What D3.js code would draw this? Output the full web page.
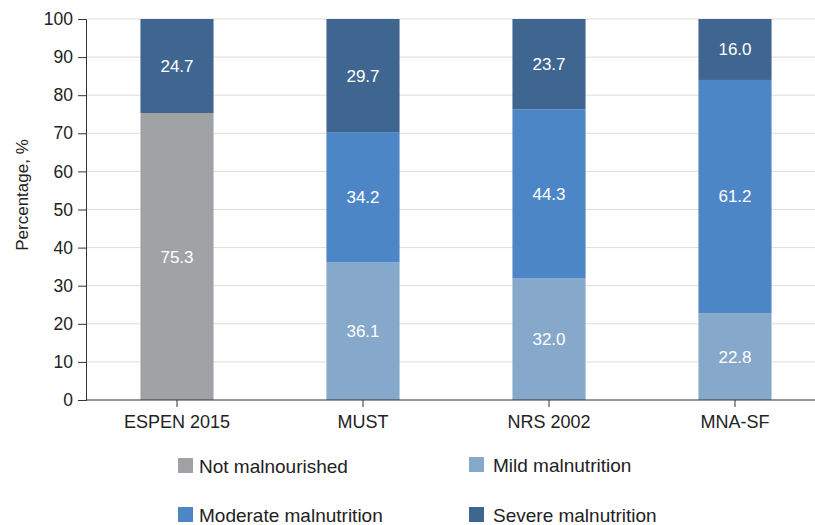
<!DOCTYPE html>
<html>
<head>
<meta charset="utf-8">
<script src="https://cdn.jsdelivr.net/npm/d3@7"></script>
<style>
  body { margin: 0; background: #fff; }
  text { font-family: "Liberation Sans", Arial, sans-serif; }
</style>
</head>
<body>
<div id="chart"></div>
<script>
var categories = ["ESPEN 2015", "MUST", "NRS 2002", "MNA-SF"];
var seriesNames = ["Not malnourished", "Mild malnutrition", "Moderate malnutrition", "Severe malnutrition"];
var notMalnourished = [75.3, 0, 0, 0];
var mild = [0, 36.1, 32.0, 22.8];
var moderate = [0, 34.2, 44.3, 61.2];
var severe = [24.7, 29.7, 23.7, 16.0];
var yTicks = [0, 10, 20, 30, 40, 50, 60, 70, 80, 90, 100];

var colors = ["#a1a2a6", "#86a8cb", "#4d86c6", "#3f6690"];

var width = 815, height = 525;

var svg = d3.select("#chart").append("svg")
  .attr("width", width)
  .attr("height", height);

// scales
var x = d3.scaleBand()
  .domain(categories)
  .range([84, 828])
  .paddingInner(0.607)
  .paddingOuter(0.3035);

var y = d3.scaleLinear()
  .domain([0, 100])
  .range([400, 19]);

// gridlines
svg.append("g")
  .selectAll("line")
  .data(yTicks.filter(function(d) { return d > 0; }))
  .enter().append("line")
  .attr("x1", 86).attr("x2", width)
  .attr("y1", function(d) { return y(d); })
  .attr("y2", function(d) { return y(d); })
  .attr("stroke", "#e2dccd")
  .attr("stroke-width", 1);

// stack the data
var rows = categories.map(function(c, i) {
  return { cat: c, s0: notMalnourished[i], s1: mild[i], s2: moderate[i], s3: severe[i] };
});
var stack = d3.stack().keys(["s0", "s1", "s2", "s3"]);
var layers = stack(rows);

var g = svg.append("g");
layers.forEach(function(layer, k) {
  g.selectAll(".bar" + k)
    .data(layer)
    .enter().append("rect")
    .attr("x", function(d) { return x(d.data.cat); })
    .attr("width", x.bandwidth())
    .attr("y", function(d) { return y(d[1]); })
    .attr("height", function(d) { return y(d[0]) - y(d[1]); })
    .attr("fill", colors[k]);

  g.selectAll(".lab" + k)
    .data(layer.filter(function(d) { return d[1] - d[0] > 0; }))
    .enter().append("text")
    .attr("x", function(d) { return x(d.data.cat) + x.bandwidth() / 2; })
    .attr("y", function(d) { return (y(d[0]) + y(d[1])) / 2; })
    .attr("dy", "0.35em")
    .attr("text-anchor", "middle")
    .attr("fill", "#fff")
    .style("font-size", "17px")
    .text(function(d) { return (d[1] - d[0]).toFixed(1); });
});

// y axis
var yAxis = svg.append("g")
  .attr("transform", "translate(86,0)")
  .call(d3.axisLeft(y).tickValues(yTicks).tickSize(8).tickPadding(5));
yAxis.select(".domain").attr("stroke", "#333");
yAxis.selectAll(".tick line").attr("stroke", "#333");
yAxis.selectAll(".tick text")
  .attr("fill", "#222")
  .style("font-size", "17.5px")
  .style("font-family", "'Liberation Sans', Arial, sans-serif");

// x axis
var xAxis = svg.append("g")
  .attr("transform", "translate(0,400)")
  .call(d3.axisBottom(x).tickSize(7).tickPadding(8).tickSizeOuter(0));
xAxis.select(".domain").attr("stroke", "#333").attr("d", "M86,0H815");
xAxis.selectAll(".tick line").attr("stroke", "#333");
xAxis.selectAll(".tick text")
  .attr("fill", "#222")
  .style("font-size", "18px")
  .style("font-family", "'Liberation Sans', Arial, sans-serif");

// y title
svg.append("text")
  .attr("transform", "translate(28,195) rotate(-90)")
  .attr("text-anchor", "middle")
  .attr("fill", "#222")
  .style("font-size", "17px")
  .text("Percentage, %");

// legend
var legendPos = [[178, 466], [469, 465], [178, 515], [469, 515]];
var legend = svg.append("g").selectAll("g")
  .data(seriesNames)
  .enter().append("g")
  .attr("transform", function(d, i) { return "translate(" + legendPos[i][0] + "," + legendPos[i][1] + ")"; });
legend.append("rect")
  .attr("x", 0).attr("y", -8)
  .attr("width", 15).attr("height", 15)
  .attr("fill", function(d, i) { return colors[i]; });
legend.append("text")
  .attr("x", function(d, i) { return i % 2 === 0 ? 21 : 24; })
  .attr("y", 0)
  .attr("dy", "0.35em")
  .attr("fill", "#222")
  .style("font-size", "19px")
  .text(function(d) { return d; });
</script>
</body>
</html>
